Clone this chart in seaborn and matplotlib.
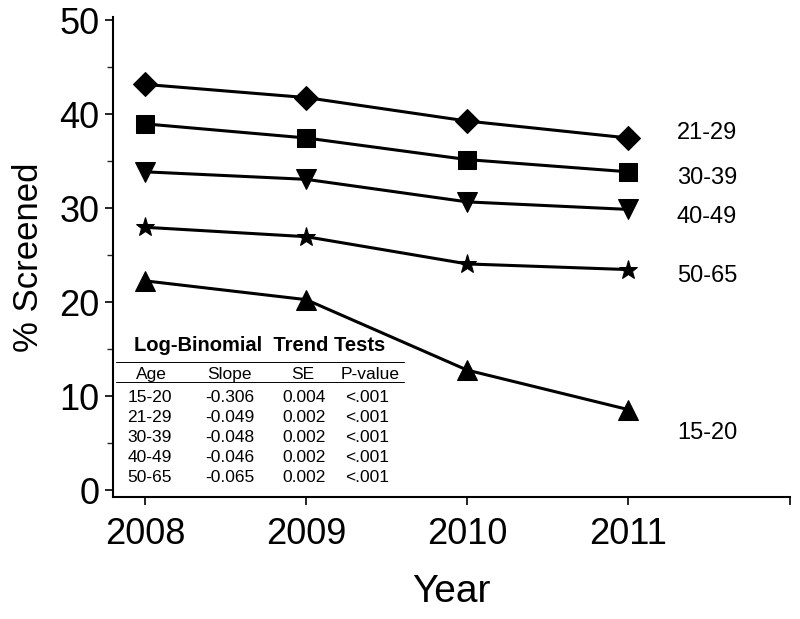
import matplotlib
matplotlib.use("Agg")
import matplotlib.pyplot as plt
import seaborn as sns
import pandas as pd
from matplotlib.ticker import MultipleLocator

sns.set_theme(style="ticks")
plt.rcParams['font.family'] = ['Liberation Sans', 'DejaVu Sans']
plt.rcParams['text.color'] = 'black'
plt.rcParams['axes.labelcolor'] = 'black'

years = [2008, 2009, 2010, 2011]
groups = ["21-29", "30-39", "40-49", "50-65", "15-20"]
vals_21_29 = [43.2, 41.8, 39.3, 37.5]
vals_30_39 = [39.0, 37.5, 35.2, 33.9]
vals_40_49 = [33.9, 33.1, 30.7, 29.9]
vals_50_65 = [28.0, 27.0, 24.1, 23.5]
vals_15_20 = [22.3, 20.3, 12.8, 8.6]
series = [vals_21_29, vals_30_39, vals_40_49, vals_50_65, vals_15_20]
markers = ["D", "s", "v", "*", "^"]
msizes = [12, 13, 14, 14, 14]
label_y = [38.0, 33.2, 29.1, 22.8, 6.1]

table_cols = ["Age", "Slope", "SE", "P-value"]
table_age = ["15-20", "21-29", "30-39", "40-49", "50-65"]
table_slope = ["-0.306", "-0.049", "-0.048", "-0.046", "-0.065"]
table_se = ["0.004", "0.002", "0.002", "0.002", "0.002"]
table_p = ["<.001", "<.001", "<.001", "<.001", "<.001"]

fig = plt.figure(figsize=(8, 6.19), dpi=100)
ax = fig.add_axes([0.141, 0.197, 0.846, 0.776])

for g, v, m, ms in zip(groups, series, markers, msizes):
    df = pd.DataFrame({"Year": years, "Pct": v})
    sns.lineplot(data=df, x="Year", y="Pct", ax=ax, color="black", marker=m,
                 markersize=ms, linewidth=2.2, markeredgecolor="black")

for g, ly in zip(groups, label_y):
    ax.text(2011.3, ly, g, fontsize=17, va="center", ha="left", color="black")

ax.set_xlim(2007.8, 2012)
ax.set_ylim(-0.7, 50.4)
ax.set_xticks([2008, 2009, 2010, 2011, 2012])
ax.set_xticklabels(["2008", "2009", "2010", "2011", ""])
ax.set_yticks([0, 10, 20, 30, 40, 50])
ax.yaxis.set_minor_locator(MultipleLocator(5))
ax.tick_params(axis="both", labelsize=26, colors="black", labelcolor="black",
               width=1.2, length=6, direction="out")
ax.tick_params(axis="x", pad=8)
ax.tick_params(axis="y", which="minor", length=4, width=1.0)
ax.set_xlabel("Year", fontsize=28, labelpad=16, color="black")
ax.set_ylabel("% Screened", fontsize=25, labelpad=10, color="black")
for s in ["top", "right"]:
    ax.spines[s].set_visible(False)
for s in ["left", "bottom"]:
    ax.spines[s].set_linewidth(1.5)
    ax.spines[s].set_color("black")

# table
def px2data(px, py):
    x = 2007.8 + (px - 113) / (790 - 113) * (2012 - 2007.8)
    y = (490 - py) / 9.36
    return x, y

tx, ty = px2data(260, 346)
ax.text(tx, ty, "Log-Binomial  Trend Tests", fontsize=14.5, fontweight="bold",
        ha="center", va="center")
x0, y1 = px2data(116, 362)
x1, _ = px2data(404, 362)
ax.plot([x0, x1], [y1, y1], color="black", linewidth=0.7)
_, y2 = px2data(116, 382)
ax.plot([x0, x1], [y2, y2], color="black", linewidth=0.7)
head_px = [152, 230, 303, 370]
for c, cp in zip(table_cols, head_px):
    cx, cy = px2data(cp, 375)
    ax.text(cx, cy, c, fontsize=12.5, ha="center", va="center")
col_px = [150, 230, 304, 367]
rows_py = [397, 417, 437, 457, 477]
for i, rp in enumerate(rows_py):
    for colvals, cp in zip([table_age, table_slope, table_se, table_p], col_px):
        cx, cy = px2data(cp, rp)
        ax.text(cx, cy, colvals[i], fontsize=12.5, ha="center", va="center")

fig.savefig("out.png", dpi=100)
